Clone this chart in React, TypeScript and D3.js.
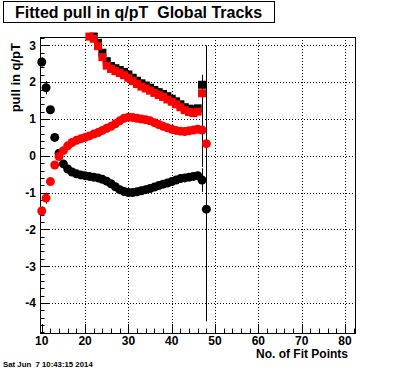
import React, { useEffect, useRef } from "react";
import * as d3 from "d3";

// labels
const titleText = "Fitted pull in q/pT  Global Tracks";
const xTitle = "No. of Fit Points";
const yTitle = "pull in q/pT";
const stamp = "Sat Jun  7 10:43:15 2014";

const xTicks = [10, 20, 30, 40, 50, 60, 70, 80];
const yTicks = [-4, -3, -2, -1, 0, 1, 2, 3];

// circles: bins 10..48
const circleBins = [10, 11, 12, 13, 14, 15, 16, 17, 18, 19, 20, 21, 22, 23, 24, 25, 26, 27, 28, 29,
  30, 31, 32, 33, 34, 35, 36, 37, 38, 39, 40, 41, 42, 43, 44, 45, 46, 47, 48];
const blackCircles = [2.55, 1.85, 1.25, 0.5, 0.07, -0.22, -0.36, -0.44, -0.49, -0.52, -0.54, -0.56, -0.58,
  -0.6, -0.64, -0.69, -0.76, -0.84, -0.92, -0.97, -1.0, -1.0, -0.98, -0.95, -0.92, -0.89, -0.85, -0.81,
  -0.77, -0.74, -0.7, -0.66, -0.62, -0.6, -0.58, -0.56, -0.54, -0.66, -1.45];
const redCircles = [-1.5, -1.15, -0.7, -0.25, -0.02, 0.14, 0.27, 0.36, 0.42, 0.46, 0.5, 0.54, 0.59, 0.63,
  0.69, 0.75, 0.8, 0.87, 0.95, 1.02, 1.05, 1.04, 1.02, 1.0, 0.98, 0.95, 0.9, 0.85, 0.8, 0.76, 0.72, 0.69,
  0.67, 0.66, 0.68, 0.7, 0.72, 0.7, 0.33];

// squares: bins 21..47
const squareBins = [21, 22, 23, 24, 25, 26, 27, 28, 29, 30, 31, 32, 33, 34, 35, 36, 37, 38, 39, 40,
  41, 42, 43, 44, 45, 46, 47];
const redSquares = [3.24, 3.18, 2.98, 2.68, 2.45, 2.36, 2.3, 2.25, 2.19, 2.12, 2.03, 1.95, 1.88, 1.83,
  1.77, 1.71, 1.65, 1.6, 1.53, 1.47, 1.4, 1.32, 1.24, 1.19, 1.16, 1.2, 1.7];
const blackSquares = [null, 3.24, 3.07, 2.8, 2.57, 2.44, 2.38, 2.33, 2.28, 2.21, 2.12, 2.04, 1.97, 1.91,
  1.85, 1.79, 1.73, 1.68, 1.62, 1.55, 1.48, 1.4, 1.32, 1.28, 1.26, 1.29, 1.93];

// error bars [bin, value, error]
const blackCircleErr = [[10, 2.55, 0.12], [11, 1.85, 0.18], [12, 1.25, 0.1], [47, -0.66, 0.32], [48, -1.45, 3.05]];
const redCircleErr = [[10, -1.5, 0.12], [11, -1.15, 0.15], [47, 0.7, 1.0], [48, 0.33, 2.67]];
const blackSquareErr = [[47, 1.93, 0.27]];

function App() {
  const ref = useRef<SVGSVGElement>(null);

  useEffect(() => {
    const W = 396, H = 372;
    const left = 40, right = 355, top = 37, bottom = 333;
    const svg = d3.select(ref.current);
    svg.selectAll("*").remove();

    const x = d3.scaleLinear().domain([9.6, 82.3]).range([left, right]);
    const y = d3.scaleLinear().domain([-4.815, 3.228]).range([bottom, top]);
    const font = "'Liberation Sans', Arial, Helvetica, sans-serif";

    svg.append("rect").attr("width", W).attr("height", H).attr("fill", "#fff");

    // grid
    const grid = svg.append("g").attr("stroke", "#000").attr("stroke-dasharray", "1,2");
    grid.selectAll("line.gx").data(xTicks.filter(t => t > 10)).enter().append("line")
      .attr("x1", d => Math.round(x(d)) + 0.5).attr("x2", d => Math.round(x(d)) + 0.5)
      .attr("y1", top).attr("y2", bottom);
    grid.selectAll("line.gy").data(yTicks).enter().append("line")
      .attr("y1", d => Math.round(y(d)) + 0.5).attr("y2", d => Math.round(y(d)) + 0.5)
      .attr("x1", left).attr("x2", right);

    // frame
    svg.append("rect").attr("x", left + 0.5).attr("y", top + 0.5)
      .attr("width", right - left).attr("height", bottom - top)
      .attr("fill", "none").attr("stroke", "#000");

    // ticks
    const ticks = svg.append("g").attr("stroke", "#000");
    const xMinor = d3.range(10, 83, 2);
    ticks.selectAll("line.tx").data(xMinor).enter().append("line")
      .attr("x1", d => Math.round(x(d)) + 0.5).attr("x2", d => Math.round(x(d)) + 0.5)
      .attr("y1", bottom).attr("y2", d => bottom - (d % 10 === 0 ? 9 : 4.5));
    const yMinor = d3.range(-48, 33, 2).map(v => v / 10);
    ticks.selectAll("line.ty").data(yMinor).enter().append("line")
      .attr("y1", d => Math.round(y(d)) + 0.5).attr("y2", d => Math.round(y(d)) + 0.5)
      .attr("x1", left).attr("x2", d => left + (Math.abs(d - Math.round(d)) < 1e-6 ? 9 : 4.5));

    // tick labels
    svg.append("g").selectAll("text").data(xTicks).enter().append("text")
      .attr("x", d => x(d)).attr("y", 345).attr("text-anchor", "middle")
      .attr("font-family", font).attr("font-weight", "bold").attr("font-size", 12)
      .text(d => d);
    svg.append("g").selectAll("text").data(yTicks).enter().append("text")
      .attr("x", 36).attr("y", d => y(d) + 4.3).attr("text-anchor", "end")
      .attr("font-family", font).attr("font-weight", "bold").attr("font-size", 12)
      .text(d => d);

    // error bars
    const errs = svg.append("g").attr("stroke", "#000");
    [...blackCircleErr, ...redCircleErr, ...blackSquareErr].forEach(([b, v, e]) => {
      errs.append("line")
        .attr("x1", Math.round(x(b)) + 0.5).attr("x2", Math.round(x(b)) + 0.5)
        .attr("y1", y(v - e)).attr("y2", y(v + e));
    });

    const rc = 4.5, rs = 4;
    const circles = (bins: number[], vals: number[], color: string) => {
      svg.append("g").selectAll("circle").data(bins).enter().append("circle")
        .attr("cx", d => x(d)).attr("cy", (d, i) => y(vals[i])).attr("r", rc)
        .attr("fill", color);
    };
    const squares = (bins: number[], vals: (number | null)[], color: string) => {
      const pts = bins.map((b, i) => [b, vals[i]]).filter(p => p[1] !== null) as number[][];
      svg.append("g").selectAll("rect").data(pts).enter().append("rect")
        .attr("x", d => x(d[0]) - rs).attr("y", d => y(d[1]) - rs)
        .attr("width", 2 * rs).attr("height", 2 * rs).attr("fill", color);
    };
    circles(circleBins, blackCircles, "#000");
    circles(circleBins, redCircles, "#ff0000");
    squares(squareBins, blackSquares, "#000");
    squares(squareBins, redSquares, "#ff0000");

    // axis titles
    svg.append("text").attr("x", 348).attr("y", 358).attr("text-anchor", "end")
      .attr("font-family", font).attr("font-weight", "bold").attr("font-size", 12)
      .text(xTitle);
    svg.append("text").attr("transform", "translate(20,43) rotate(-90)").attr("text-anchor", "end")
      .attr("font-family", font).attr("font-weight", "bold").attr("font-size", 13)
      .text(yTitle);

    // title box
    svg.append("rect").attr("x", 3.5).attr("y", 1.5).attr("width", 271).attr("height", 21)
      .attr("fill", "#fff").attr("stroke", "#000");
    svg.append("text").attr("x", 15).attr("y", 17.5).style("white-space", "pre")
      .attr("font-family", font).attr("font-weight", "bold").attr("font-size", 16)
      .text(titleText);

    // time stamp
    svg.append("text").attr("x", 3).attr("y", 367).style("white-space", "pre")
      .attr("font-family", font).attr("font-weight", "bold").attr("font-size", 7.8)
      .text(stamp);
  }, []);

  return (
    <svg ref={ref} width={396} height={372}
      style={{ position: "absolute", left: 0, top: 0, display: "block" }} />
  );
}

export default App;
